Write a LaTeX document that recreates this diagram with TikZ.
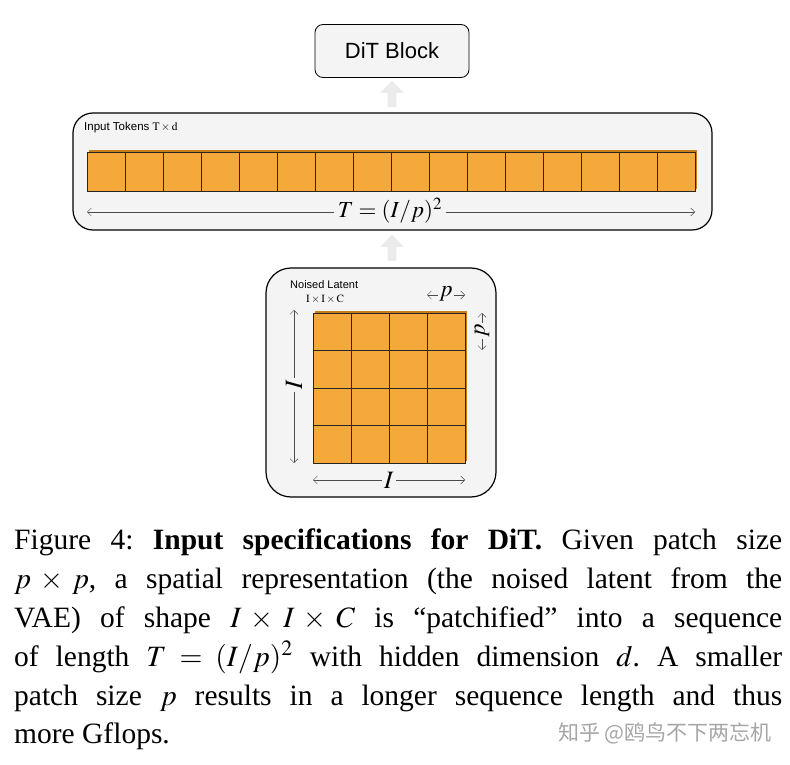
\documentclass[tikz,border=0pt]{standalone}
\usepackage{amsmath,amssymb}
\usepackage{mathptmx}
\usepackage[no-math]{fontspec}
\setmainfont{Liberation Serif}
\newfontfamily\labelfont{Liberation Sans}
\newfontfamily\cjk{Noto Sans CJK SC}
\usetikzlibrary{arrows.meta,shapes.arrows}
\definecolor{patchorange}{HTML}{F5A93B}
\definecolor{patchedge}{HTML}{C77F1C}
\definecolor{panelgray}{HTML}{F4F4F4}
\tikzstyle{panel} = [draw=black, fill=panelgray, very thick, rounded corners=20pt]
\tikzstyle{patch} = [draw=black!85, fill=patchorange, line width=0.8pt]
\tikzstyle{dimarrow} = [draw=black!70, line width=0.5pt, {Straight Barb[length=4pt]}-{Straight Barb[length=4pt]}]
\tikzstyle{uparrow} = [single arrow, draw=none, fill=black!8, minimum height=26pt,
    minimum width=24pt, single arrow head extend=4pt, shape border rotate=90, inner sep=2pt]

\begin{document}
\begin{tikzpicture}[x=1pt, y=-1pt]
                \useasboundingbox[fill=white] (0,0) rectangle (790,765);
                % DiT block
                \node [draw=black, fill=panelgray, thick, rounded corners=8pt, minimum width=154pt,
                    minimum height=53pt, font=\labelfont\fontsize{22}{24}\selectfont] (dit) at (392,51) {DiT Block};
                \node [uparrow] (up1) at (392,96) {};
                % input tokens
                \draw [panel] (73,113) rectangle (712,230);
                \node [anchor=west, font=\labelfont\fontsize{11.5}{12}\selectfont, inner sep=0pt] (toklabel) at (84,128) {Input Tokens $\mathrm{T}\times\mathrm{d}$};
                \fill [patchedge] (89,150) rectangle (697,189);
                \foreach \i in {0,...,15}
                    \draw [patch] (87+38*\i,152) rectangle ++(38,39);
                \coordinate (tl) at (87,212);
                \coordinate (tr) at (695,212);
                \draw [dimarrow] (tl) -- (tr);
                \node [fill=panelgray, font=\fontsize{23}{25}\selectfont, inner sep=4pt] (tlen) at (390,211) {$T=(I/p)^2$};
                \node [uparrow] (up2) at (392,250) {};
                % noised latent
                \draw [panel, rounded corners=25pt] (266,268) rectangle (496,497);
                \node [anchor=west, font=\labelfont\fontsize{11}{12}\selectfont, inner sep=0pt] (latlabel) at (290,285) {Noised Latent};
                \node [anchor=west, font=\fontsize{11}{12}\selectfont, inner sep=0pt] (latdim) at (306,299) {$\mathrm{I}\times\mathrm{I}\times\mathrm{C}$};
                \fill [patchedge] (315,311) rectangle (467,461);
                \foreach \i in {0,...,3}
                    \foreach \j in {0,...,3}
                        \draw [patch] (313+38*\i,313+37.5*\j) rectangle ++(38,37.5);
                % dimensions
                \coordinate (vt) at (294,310);
                \coordinate (vb) at (294,463);
                \draw [dimarrow] (vt) -- (vb);
                \node [fill=panelgray, rotate=90, font=\fontsize{25}{26}\selectfont, inner sep=2pt] (vlab) at (294,385) {$I$};
                \coordinate (hl) at (313,480);
                \coordinate (hr) at (465,480);
                \draw [dimarrow] (hl) -- (hr);
                \node [fill=panelgray, font=\fontsize{25}{26}\selectfont, inner sep=2pt] (hlab) at (389,480) {$I$};
                \coordinate (pl) at (427,295);
                \coordinate (pr) at (465,295);
                \draw [dimarrow] (pl) -- (pr);
                \node [fill=panelgray, font=\fontsize{23}{24}\selectfont, inner sep=1pt] (plab) at (446,294) {$p$};
                \coordinate (pt) at (482,313);
                \coordinate (pb) at (482,350);
                \draw [dimarrow] (pt) -- (pb);
                \node [fill=panelgray, rotate=90, font=\fontsize{23}{24}\selectfont, inner sep=1pt] (plab2) at (482,331) {$p$};
                % caption
                \node [anchor=north west, inner sep=0pt, font=\fontsize{29.5}{38.8}\selectfont] (caption) at (14,529) {%
                    \begin{minipage}{768pt}\frenchspacing
                        Figure 4: \textbf{Input specifications for DiT.} Given patch size\linebreak
                        $p\times p$, a spatial representation (the noised latent from the\linebreak
                        VAE) of shape $I\times I\times C$ is ``patchified'' into a sequence\linebreak
                        of length $T=(I/p)^2$ with hidden dimension $d$. A smaller\linebreak
                        patch size $p$ results in a longer sequence length and thus\linebreak
                        more Gflops.
                    \end{minipage}
                };
                \node [anchor=east, text=black!35, font=\cjk\fontsize{21}{24}\selectfont, inner sep=0pt] (mark) at (772,733) {知乎 @鸥鸟不下两忘机};
            \end{tikzpicture}
\end{document}
